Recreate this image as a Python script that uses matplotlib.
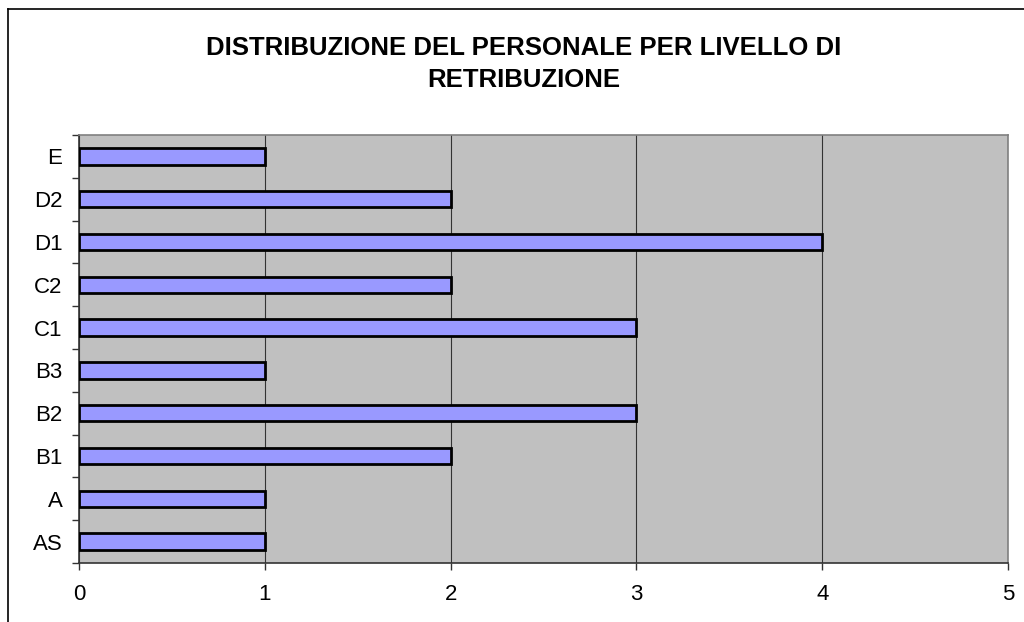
import matplotlib.pyplot as plt
import numpy as np

plt.rcParams['font.family'] = ['Liberation Sans', 'DejaVu Sans']

livelli = ["AS", "A", "B1", "B2", "B3", "C1", "C2", "D1", "D2", "E"]
persone = [1, 1, 2, 3, 1, 3, 2, 4, 2, 1]
x_ticks = [0, 1, 2, 3, 4, 5]

fig = plt.figure(figsize=(10.24, 6.22), dpi=100)
fig.patch.set_facecolor("white")

# border of the chart area (cut off on the right and bottom)
fig.add_artist(plt.Line2D([8 / 1024, 8 / 1024], [0, 1 - 9 / 622],
                          transform=fig.transFigure, color="black", lw=1.2))
fig.add_artist(plt.Line2D([8 / 1024, 1], [1 - 9 / 622, 1 - 9 / 622],
                          transform=fig.transFigure, color="black", lw=1.2))

ax = fig.add_axes([79 / 1024, 1 - 563 / 622, (1008 - 79) / 1024, (563 - 135) / 622])
ax.set_facecolor("#c0c0c0")

y = np.arange(len(livelli))
ax.barh(y, persone, height=0.38, color="#9999ff", edgecolor="black", linewidth=2.0, zorder=3)

ax.set_xlim(0, 5)
ax.set_ylim(-0.5, len(livelli) - 0.5)
ax.set_xticks(x_ticks)
ax.set_xticklabels([str(v) for v in x_ticks])
ax.set_yticks(y)
ax.set_yticklabels(livelli)
ax.set_yticks(np.arange(-0.5, len(livelli)), minor=True)

ax.grid(axis="x", color="#333333", linewidth=0.8, zorder=1)
ax.tick_params(axis="y", which="major", length=0, pad=12, labelsize=16)
ax.tick_params(axis="y", which="minor", length=5, width=1, direction="out", color="#333333")
ax.tick_params(axis="x", length=5, width=1, direction="out", pad=10, labelsize=16, color="#333333")

ax.spines["left"].set_color("#333333")
ax.spines["bottom"].set_color("#333333")
ax.spines["top"].set_color("#808080")
ax.spines["right"].set_color("#808080")
for s in ax.spines.values():
    s.set_linewidth(1.2)

fig.text(524 / 1024, 1 - 64 / 622, "DISTRIBUZIONE DEL PERSONALE PER LIVELLO DI\nRETRIBUZIONE",
         ha="center", va="center", fontsize=18.5, fontweight="bold", linespacing=1.45)

fig.savefig("out.png", dpi=100)
